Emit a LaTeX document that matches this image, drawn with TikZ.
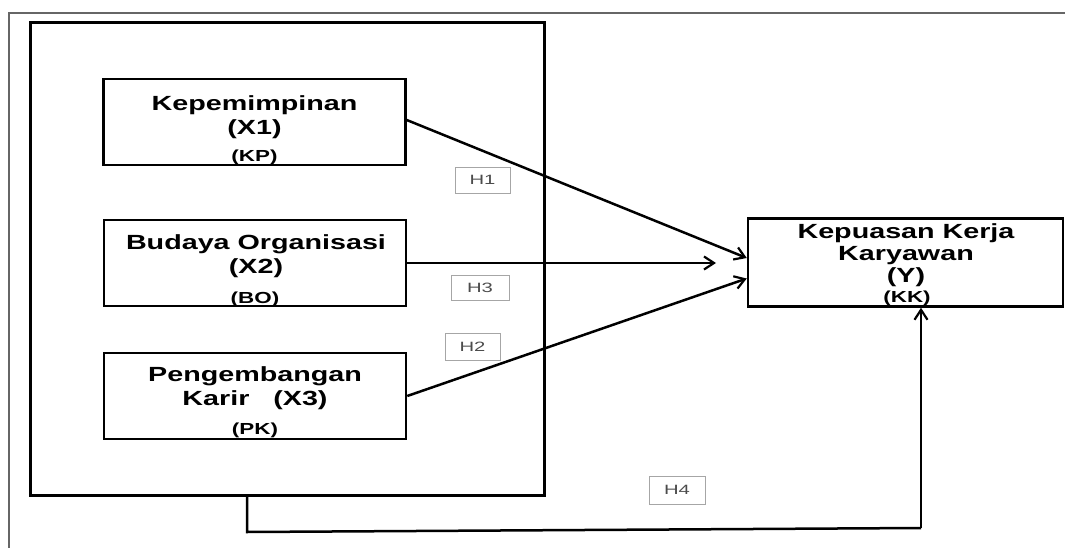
\documentclass[tikz,border=0pt]{standalone}
\usepackage{fontspec}
\usetikzlibrary{arrows.meta}
\newfontfamily\boxfont[FakeStretch=1.4]{Liberation Sans}
\newfontfamily\labfont[FakeStretch=1.5]{Liberation Sans}
\tikzset{
  every picture/.style={x=1pt,y=-1pt},
  box/.style={draw=black,line width=2.5pt,minimum width=302pt,minimum height=86pt,inner sep=0pt},
  ttl/.style={align=center,inner sep=0pt,text=black,font=\boxfont\bfseries\fontsize{20.5}{24}\selectfont},
  abbr/.style={inner sep=0pt,text=black,font=\boxfont\bfseries\fontsize{16}{18}\selectfont},
  hlab/.style={draw=black!35,line width=0.7pt,inner sep=0pt,text=black!70,font=\labfont\fontsize{13.5}{15}\selectfont},
  arr/.style={line width=2.5pt,-{Straight Barb[length=10pt,width=13pt,line width=2.2pt]}},
  conn/.style={line width=2.5pt}
}
\begin{document}
\begin{tikzpicture}
\useasboundingbox (0,0) rectangle (1065,548);
% outer frame lines
\draw[black!60,line width=1.4pt] (1065,13) -- (9,13) -- (9,548);
% big container box
\node[draw=black,line width=3pt,minimum width=514pt,minimum height=472pt,inner sep=0pt] (big) at (287,259) {};
% variable boxes
\node[box] (kp) at (254.5,122) {};
\node[box] (bo) at (255,263) {};
\node[box] (pk) at (255,396) {};
\node[box,minimum width=315pt,minimum height=88pt] (yb) at (905.5,262.5) {};
% titles
\node[ttl] (kpt) at (254.5,117.5) {Kepemimpinan\\(X1)};
\node[abbr] (kpa) at (254.5,157) {(KP)};
\node[ttl] (bot) at (256,256.5) {Budaya Organisasi\\(X2)};
\node[abbr] (boa) at (255,299) {(BO)};
\node[ttl] (pkt) at (255,388.5) {Pengembangan\\Karir\ \ \ (X3)};
\node[abbr] (pka) at (255,430) {(PK)};
\node[ttl,font=\boxfont\bfseries\fontsize{20.5}{22}\selectfont] (yt) at (906,255) {Kepuasan Kerja\\Karyawan\\(Y)};
\node[abbr] (ya) at (907,298) {(KK)};
% hypothesis labels
\node[hlab,minimum width=55pt,minimum height=26pt] (h1) at (482.5,180) {H1};
\node[hlab,minimum width=58pt,minimum height=25pt] (h3) at (480,287.5) {H3};
\node[hlab,minimum width=55pt,minimum height=27pt] (h2) at (472.5,346.5) {H2};
\node[hlab,minimum width=56pt,minimum height=28pt] (h4) at (677,490) {H4};
% arrows
\coordinate (h3end) at (716,263);
\draw[arr] ([yshift=2pt]kp.east) -- ([yshift=4.5pt]yb.west);
\draw[arr] (bo.east) -- (h3end);
\draw[arr] (pk.east) -- ([yshift=-16pt]yb.west);
\coordinate (b1) at (247,532);
\coordinate (b2) at (921,528);
\draw[conn] ([xshift=-40pt]big.south) -- (b1) -- (b2);
\draw[arr] (b2) -- ([xshift=15.5pt]yb.south);
\end{tikzpicture}
\end{document}
